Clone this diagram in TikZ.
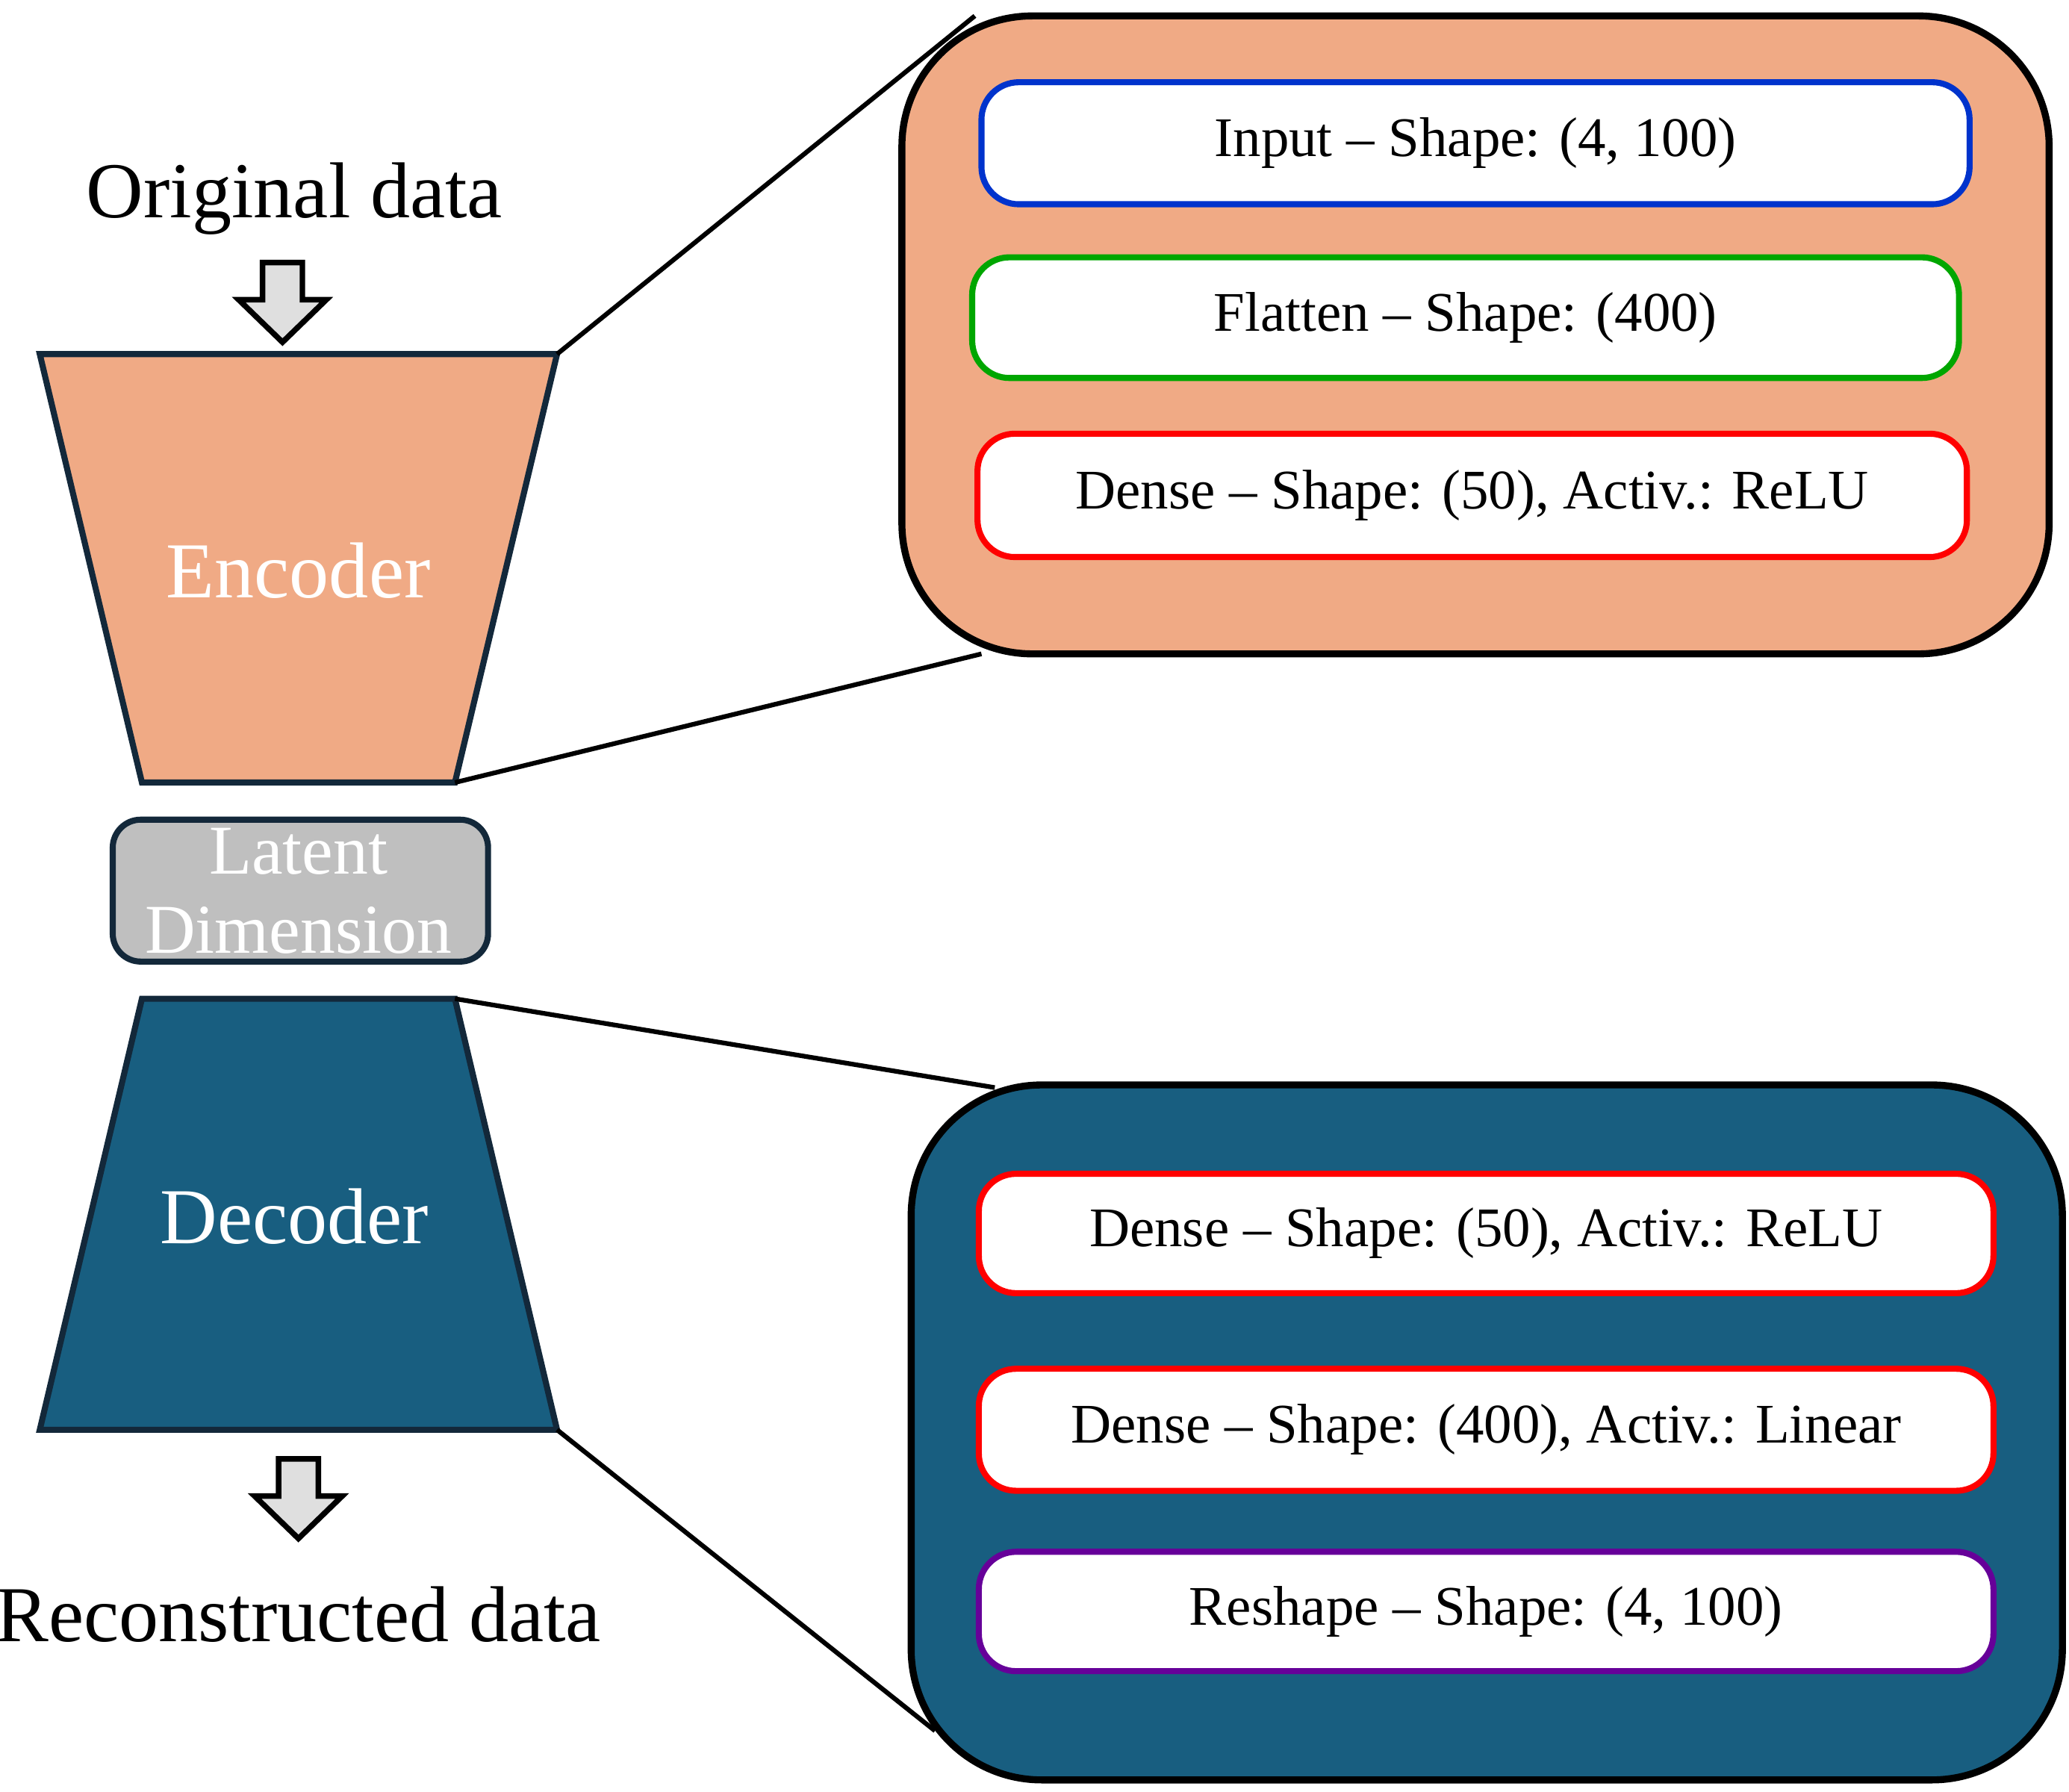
\documentclass[tikz,border=0pt]{standalone}
\usepackage{fontspec}
\setmainfont{Liberation Serif}
\usetikzlibrary{positioning}
\definecolor{encfill}{HTML}{F0AA85}
\definecolor{decfill}{HTML}{185E80}
\definecolor{edgedark}{HTML}{13283A}
\definecolor{latfill}{HTML}{BFBFBF}
\tikzset{
  layer/.style={draw=#1, line width=1.3pt, fill=white, rounded corners=8pt},
  panel/.style={draw=black, line width=1.5pt, rounded corners=28pt},
  blockarrow/.style={draw=black, line width=1.2pt, fill=gray!25},
}
\begin{document}
\begin{tikzpicture}[x=1cm,y=-1cm, font=\fontsize{12}{14}\selectfont]
      \useasboundingbox (0,0) rectangle (15.6,13.51);
      % ENCODER
      \coordinate (etl) at (0.30,2.67);
      \coordinate (etr) at (4.20,2.67);
      \coordinate (ebr) at (3.43,5.90);
      \coordinate (ebl) at (1.07,5.90);
      \draw[fill=encfill, draw=edgedark, line width=1.3pt] (etl) -- (etr) -- (ebr) -- (ebl) -- cycle;
      \node[text=white, font=\fontsize{17}{20}\selectfont] (enc) at (2.25,4.30) {Encoder};

      % LATENT
      \draw[fill=latfill, draw=edgedark, line width=1.3pt, rounded corners=6pt]
        (0.85,6.18) rectangle (3.68,7.25);
      \node[text=white, align=center, font=\fontsize{15}{17}\selectfont] (lat) at (2.25,6.72) {Latent\\Dimension};

      % DECODER
      \coordinate (dtl) at (1.07,7.53);
      \coordinate (dtr) at (3.43,7.53);
      \coordinate (dbr) at (4.20,10.78);
      \coordinate (dbl) at (0.30,10.78);
      \draw[fill=decfill, draw=edgedark, line width=1.3pt] (dtl) -- (dtr) -- (dbr) -- (dbl) -- cycle;
      \node[text=white, font=\fontsize{17}{20}\selectfont] (dec) at (2.22,9.17) {Decoder};

      % IN / OUT
      \node[font=\fontsize{17}{20}\selectfont] (orig) at (2.22,1.50) {Original data};
      \draw[blockarrow] (1.98,1.98) -- (2.28,1.98) -- (2.28,2.26) -- (2.46,2.26) -- (2.13,2.58)
        -- (1.80,2.26) -- (1.98,2.26) -- cycle;
      \draw[blockarrow] (2.10,11.00) -- (2.40,11.00) -- (2.40,11.28) -- (2.58,11.28) -- (2.25,11.60)
        -- (1.92,11.28) -- (2.10,11.28) -- cycle;
      \node[font=\fontsize{17}{20}\selectfont] (recon) at (2.25,12.17) {Reconstructed data};

      % ENCODER PANEL
      \draw[panel, fill=encfill] (6.80,0.12) rectangle (15.45,4.93);
      \coordinate (ep1) at (7.35,0.12);
      \coordinate (ep2) at (7.40,4.93);
      \node[layer=blue!75!cyan!80!black, minimum width=7.45cm, minimum height=0.92cm] (in) at (11.125,1.08) {Input -- Shape: (4, 100)};
      \node[layer=green!65!black, minimum width=7.44cm, minimum height=0.91cm] (flat) at (11.05,2.395) {Flatten -- Shape: (400)};
      \node[layer=red, minimum width=7.46cm, minimum height=0.93cm] (dense1) at (11.10,3.735) {Dense -- Shape: (50), Activ.: ReLU};

      % DECODER PANEL
      \draw[panel, fill=decfill] (6.87,8.18) rectangle (15.55,13.42);
      \coordinate (dp1) at (7.50,8.20);
      \coordinate (dp2) at (7.05,13.05);
      \node[layer=red, minimum width=7.65cm, minimum height=0.90cm] (dense2) at (11.205,9.30) {Dense -- Shape: (50), Activ.: ReLU};
      \node[layer=red, minimum width=7.65cm, minimum height=0.92cm] (dense3) at (11.205,10.78) {Dense -- Shape: (400), Activ.: Linear};
      \node[layer=violet!80!blue, minimum width=7.65cm, minimum height=0.90cm] (resh) at (11.205,12.15) {Reshape -- Shape: (4, 100)};

      % ZOOM LINES
      \draw[line width=1pt] (etr) -- (ep1);
      \draw[line width=1pt] (ebr) -- (ep2);
      \draw[line width=1pt] (dtr) -- (dp1);
      \draw[line width=1pt] (dbr) -- (dp2);
\end{tikzpicture}
\end{document}
